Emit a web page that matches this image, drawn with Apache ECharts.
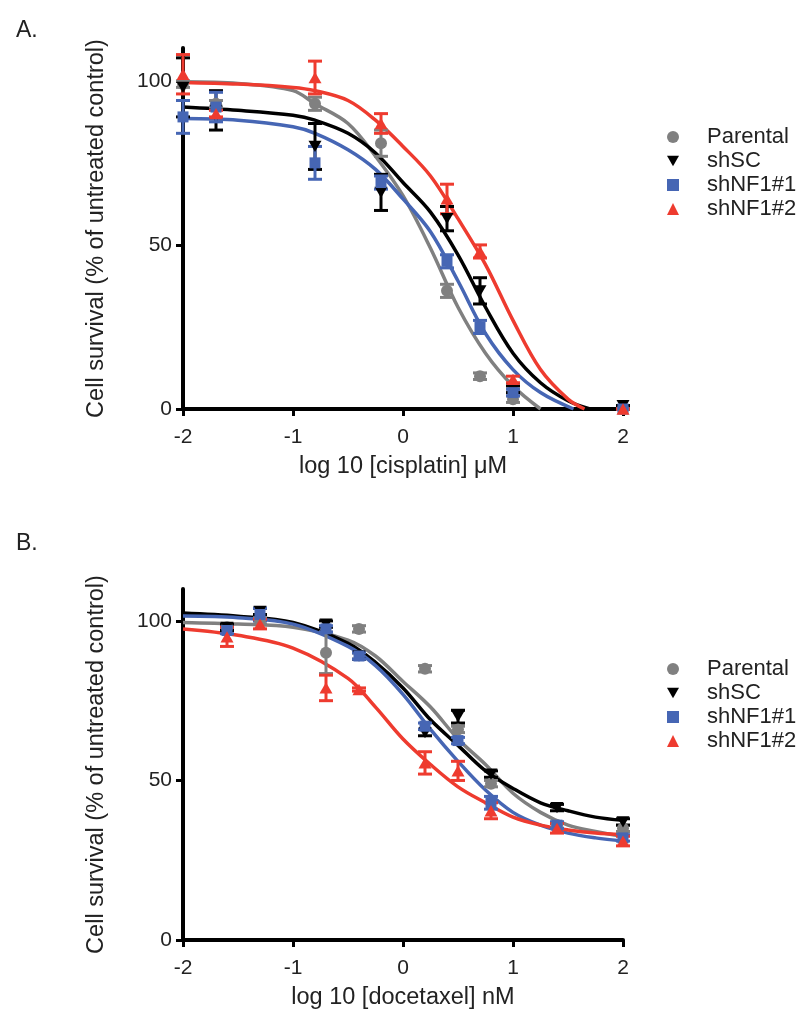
<!DOCTYPE html>
<html><head><meta charset="utf-8">
<script src="https://cdn.jsdelivr.net/npm/echarts@6/dist/echarts.min.js"></script>
<style>html,body{margin:0;padding:0;background:#fff}#c{width:802px;height:1019px}</style>
</head><body><div id="c"></div>
<script>
// ---------- names / ticks ----------
const groupNames = ['Parental', 'shSC', 'shNF1#1', 'shNF1#2'];
const yTickValues = [0, 50, 100];
const xTickValues = [-2, -1, 0, 1, 2];
const xTitleA = 'log 10 [cisplatin] μM';
const xTitleB = 'log 10 [docetaxel] nM';
const yTitle = 'Cell survival (% of untreated control)';

// ---------- Panel A: measured points (log10 conc, % survival, SEM) ----------
const xA = [-2, -1.7, -0.8, -0.2, 0.4, 0.7, 1.0, 2.0];
const parentalA    = [99, 93, 93, 81, 36, 10, 3, 0];
const parentalAErr = [1, 1, 2, 4, 2, 1, 1, 0];
const shSCA        = [98, 91, 80, 66, 58, 36, 6, 1];
const shSCAErr     = [9, 6, 7, 5.5, 3.7, 4, 1, 0];
const nf1A         = [89, 92, 75, 69, 45, 25, 5, 0];
const nf1AErr      = [5, 4.5, 5, 2, 2, 2, 1, 0];
const nf2A         = [102, 90, 101, 87, 64, 48, 9, 0];
const nf2AErr      = [6, 1, 5, 3, 4.5, 2, 1, 0];

// ---------- Panel A: fitted curves ----------
const parentalFitXA = [-2, -1.5, -1, -0.8, -0.5, -0.25, 0, 0.25, 0.5, 0.75, 1.0, 1.25];
const parentalFitA  = [99.7, 99.2, 97, 93, 87, 77, 65, 49, 31, 17, 7, 0];
const shSCFitXA     = [-2, -1.5, -1, -0.8, -0.5, -0.25, 0, 0.25, 0.5, 0.75, 1.0, 1.25, 1.5, 1.7];
const shSCFitA      = [92, 91, 89.5, 88, 84, 78, 69, 60, 47, 31, 17, 8, 2.5, 0];
const nf1FitXA      = [-2, -1.5, -1, -0.8, -0.5, -0.25, 0, 0.25, 0.5, 0.75, 1.0, 1.25, 1.55];
const nf1FitA       = [88.5, 88, 86, 84, 79, 73, 64, 54, 39, 23, 12, 5, 0];
const nf2FitXA      = [-2, -1.5, -1, -0.8, -0.5, -0.25, 0, 0.25, 0.5, 0.75, 1.0, 1.25, 1.5, 1.65];
const nf2FitA       = [99.5, 99, 98, 97, 94, 88, 80, 71, 58, 44, 27, 12, 3, 0];

// ---------- Panel B: measured points ----------
const xB = [-1.6, -1.3, -0.7, -0.4, 0.2, 0.5, 0.8, 1.4, 2.0];
const parentalB    = [98, 100, 90, 97.5, 85, 66, 49, 36, 35];
const parentalBErr = [1, 1, 6.5, 1, 1, 1, 1, 1, 1];
const shSCB        = [98, 103, 99, 89, 65, 70, 52, 41.5, 37];
const shSCBErr     = [1, 1, 1, 1, 1, 2, 1, 1, 1];
const nf1B         = [97, 102, 97.5, 89, 67, 62.5, 43, 36, 32];
const nf1BErr      = [1, 2, 1, 1, 1, 1, 2, 1, 1];
const nf2B         = [95, 99, 79, 78.5, 55.5, 53, 40.5, 35, 31];
const nf2BErr      = [3, 1.5, 4, 0.5, 3.5, 3, 2.5, 1.5, 1.5];

// ---------- Panel B: fitted curves ----------
const fitXB          = [-2, -1.5, -1, -0.5, -0.25, 0, 0.25, 0.5, 0.75, 1, 1.25, 1.5, 1.75, 2];
const parentalFitB   = [99.5, 99, 98, 94, 89, 81, 73, 63, 55, 46, 40, 36, 34, 32.5];
const shSCFitB       = [102.5, 101.5, 99.5, 93, 87, 79, 69, 61, 53, 47.5, 43, 40.5, 38.5, 37.5];
const nf1FitB        = [101.5, 101, 99, 92, 86, 77, 66, 56, 47, 40, 36, 33.5, 32, 31];
const nf2FitB        = [97.5, 95.5, 91.5, 82, 73, 63, 55, 48, 43, 38.5, 36, 34.5, 33.5, 33];

// ---------- styling ----------
const colors = ['#808080', '#000000', '#4666b4', '#ee3b2f'];
const downTri = 'path://M0,0L10,0L5,8.66Z';
const symbols = ['circle', downTri, 'rect', 'triangle'];
const symSizes = [12, [13, 11.3], 11, [13, 11.3]];
const FONT = '"Liberation Sans", Arial, Helvetica, sans-serif';
const TXT = '#222';

function zip(xs, ys) { return xs.map((x, i) => [x, ys[i]]); }

function curve(name, xs, ys, ci, ai) {
  return { type: 'line', name: name + ' fit', xAxisIndex: ai, yAxisIndex: ai,
    data: zip(xs, ys), smooth: 0.35, showSymbol: false, symbol: 'none', silent: true,
    lineStyle: { color: colors[ci], width: 3.5 }, z: 2 };
}
function errs(name, xs, ys, es, ci, ai) {
  const c = colors[ci];
  return { type: 'custom', name: name + ' err', xAxisIndex: ai, yAxisIndex: ai, silent: true, z: 3,
    data: xs.map((x, i) => [x, ys[i] - es[i], ys[i] + es[i]]),
    renderItem(params, api) {
      const x = api.value(0);
      const lo = api.coord([x, Math.max(0, api.value(1))]);
      const hi = api.coord([x, api.value(2)]);
      const w = 7;
      const st = { stroke: c, lineWidth: 3 };
      return { type: 'group', children: [
        { type: 'line', shape: { x1: lo[0], y1: lo[1], x2: hi[0], y2: hi[1] }, style: st },
        { type: 'line', shape: { x1: lo[0] - w, y1: lo[1], x2: lo[0] + w, y2: lo[1] }, style: st },
        { type: 'line', shape: { x1: hi[0] - w, y1: hi[1], x2: hi[0] + w, y2: hi[1] }, style: st }
      ]};
    } };
}
function pts(name, xs, ys, ci, ai) {
  return { type: 'scatter', name: name, xAxisIndex: ai, yAxisIndex: ai, z: 4,
    data: zip(xs, ys), symbol: symbols[ci], symbolSize: symSizes[ci],
    itemStyle: { color: colors[ci], opacity: 1 } };
}

const panels = [
  { x: xA, ys: [parentalA, shSCA, nf1A, nf2A], es: [parentalAErr, shSCAErr, nf1AErr, nf2AErr],
    fx: [parentalFitXA, shSCFitXA, nf1FitXA, nf2FitXA], fy: [parentalFitA, shSCFitA, nf1FitA, nf2FitA] },
  { x: xB, ys: [parentalB, shSCB, nf1B, nf2B], es: [parentalBErr, shSCBErr, nf1BErr, nf2BErr],
    fx: [fitXB, fitXB, fitXB, fitXB], fy: [parentalFitB, shSCFitB, nf1FitB, nf2FitB] }
];

const series = [];
panels.forEach((p, ai) => {
  groupNames.forEach((n, ci) => series.push(curve(n, p.fx[ci], p.fy[ci], ci, ai)));
  groupNames.forEach((n, ci) => series.push(errs(n, p.x, p.ys[ci], p.es[ci], ci, ai)));
  groupNames.forEach((n, ci) => series.push(pts(n, p.x, p.ys[ci], ci, ai)));
});

function xAxis(gi, title) {
  return { type: 'value', gridIndex: gi, min: -2, max: 2, interval: 1,
    axisLine: { show: true, onZero: false, lineStyle: { color: '#000', width: 4 } },
    axisTick: { show: true, length: 7, lineStyle: { color: '#000', width: 3 }, customValues: xTickValues },
    axisLabel: { color: TXT, fontSize: 21, fontFamily: FONT, margin: 18, customValues: xTickValues },
    splitLine: { show: false },
    name: title, nameLocation: 'middle', nameGap: 46,
    nameTextStyle: { color: TXT, fontSize: 23.5, fontFamily: FONT } };
}
function yAxis(gi) {
  return { type: 'value', gridIndex: gi, min: 0, max: 110, interval: 50,
    axisLine: { show: true, onZero: false, lineStyle: { color: '#000', width: 4 } },
    axisTick: { show: true, length: 7, lineStyle: { color: '#000', width: 3 }, customValues: yTickValues },
    axisLabel: { color: TXT, fontSize: 21, fontFamily: FONT, margin: 11, customValues: yTickValues },
    splitLine: { show: false },
    name: yTitle, nameLocation: 'middle', nameGap: 74, nameRotate: 90,
    nameTextStyle: { color: TXT, fontSize: 23.5, fontFamily: FONT } };
}
function legend(top) {
  return { orient: 'vertical', left: 662, top: top, itemWidth: 12, itemHeight: 12, itemGap: 0,
    selectedMode: false,
    textStyle: { color: TXT, fontSize: 22, fontFamily: FONT, lineHeight: 24, padding: [0, 0, 0, 23] },
    data: [
      { name: 'Parental', icon: 'circle' },
      { name: 'shSC', icon: downTri },
      { name: 'shNF1#1', icon: 'rect' },
      { name: 'shNF1#2', icon: 'triangle' }
    ] };
}

const option = {
  backgroundColor: '#fff',
  animation: false,
  title: [
    { text: 'A.', left: 11, top: 14, textStyle: { fontSize: 23, fontWeight: 'normal', color: TXT, fontFamily: FONT } },
    { text: 'B.', left: 11, top: 527, textStyle: { fontSize: 23, fontWeight: 'normal', color: TXT, fontFamily: FONT } }
  ],
  legend: [legend(120), legend(652)],
  grid: [
    { left: 183, top: 48, width: 440, height: 361, containLabel: false, outerBoundsMode: 'none' },
    { left: 183, top: 589, width: 440, height: 351, containLabel: false, outerBoundsMode: 'none' }
  ],
  xAxis: [xAxis(0, xTitleA), xAxis(1, xTitleB)],
  yAxis: [yAxis(0), yAxis(1)],
  series: series
};

const chart = echarts.init(document.getElementById('c'), null, { renderer: 'canvas' });
chart.setOption(option);
</script>
</body></html>
